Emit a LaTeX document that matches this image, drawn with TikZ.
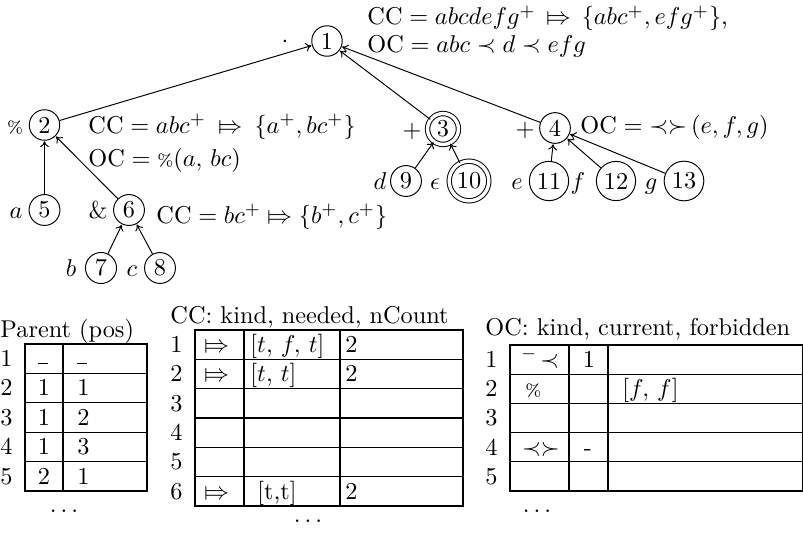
\documentclass[tikz,border=0pt]{standalone}
\usepackage{stmaryrd}
\usetikzlibrary{arrows.meta}
\newcommand{\pct}{{\scriptsize\%}}
\newcommand{\nodash}{\rule[1.1pt]{3.8pt}{0.4pt}}
\begin{document}
\begin{tikzpicture}[x=0.4115pt,y=-0.4115pt,
  st/.style={circle,draw,inner sep=1.5pt,line width=0.4pt},
  acc/.style={st,double,double distance=1.4pt},
  lab/.style={anchor=base,inner sep=0pt},
  edge/.style={-{To[length=2.4pt,width=3.6pt]},line width=0.4pt,shorten >=0.2pt},
  txt/.style={anchor=base west,inner sep=0pt},
  ctr/.style={anchor=base,inner sep=0pt},
  grid/.style={line width=0.5pt}]
\useasboundingbox (0,0) rectangle (803,534);
% ---------------- tree ----------------
\node[st]  (n1)  at (327,41)  {1};
\node[st]  (n2)  at (44.5,125) {2};
\node[acc] (n3)  at (443,129) {3};
\node[st]  (n4)  at (555,128) {4};
\node[st]  (n5)  at (44.5,210) {5};
\node[st]  (n6)  at (129,210) {6};
\node[st]  (n7)  at (101,268) {7};
\node[st]  (n8)  at (160,268) {8};
\node[st]  (n9)  at (406,181) {9};
\node[acc] (n10) at (469,181) {10};
\node[st]  (n11) at (549,181) {11};
\node[st]  (n12) at (616,181) {12};
\node[st]  (n13) at (684,181) {13};
% labels
\node[lab] (l1)  at (285,48)  {$\cdot$};
\node[lab] (l2)  at (15,133)  {\pct};
\node[lab] (l3)  at (412,137) {$+$};
\node[lab] (l4)  at (525,136) {$+$};
\node[lab] (l5)  at (16,218)  {$a$};
\node[lab] (l6)  at (98,218)  {$\&$};
\node[lab] (l7)  at (71,276)  {$b$};
\node[lab] (l8)  at (132,276) {$c$};
\node[lab] (l9)  at (380,189) {$d$};
\node[lab] (l10) at (435,189) {$\epsilon$};
\node[lab] (l11) at (517,189) {$e$};
\node[lab] (l12) at (578,189) {$f$};
\node[lab] (l13) at (651,189) {$g$};
% edges
\foreach \c/\p in {n2/n1,n3/n1,n4/n1,n5/n2,n6/n2,n7/n6,n8/n6,n9/n3,n10/n3,n11/n4,n12/n4,n13/n4}
  \draw[edge] (\c) -- (\p);
% annotations
\node[txt] (cc1) at (367,25) {$\mathrm{CC} = abcdefg^{+} \,\Mapsto\, \{abc^{+}, efg^{+}\}$,};
\node[txt] (oc1) at (367,53) {$\mathrm{OC} = abc \prec d \prec efg$};
\node[txt] (cc2) at (88,133) {$\mathrm{CC} = abc^{+} \:\Mapsto\: \{a^{+}, bc^{+}\}$};
\node[txt] (oc2) at (88,166) {$\mathrm{OC} = \mbox{\pct}(a,\, bc)$};
\node[txt] (cc6) at (156,223) {$\mathrm{CC} = bc^{+} \Mapsto \{b^{+}, c^{+}\}$};
\node[txt] (oc4) at (580,133) {$\mathrm{OC} = \mathord{\prec\succ}\,(e, f, g)$};
% ---------------- Parent table ----------------
\node[txt] (tp) at (0,337) {Parent (pos)};
\draw[grid] (25,344) rectangle (147,491);
\draw[grid] (63,344) -- (63,491);
\foreach \y in {373.4,402.8,432.2,461.6} \draw[grid] (25,\y) -- (147,\y);
\foreach \i/\y in {1/366.5,2/395.9,3/425.3,4/454.7,5/484.1}
  \node[txt] (pr\i) at (0,\y) {\i};
\node[ctr] (pa1) at (43,366.5) {\nodash};
\node[txt] (pb1) at (77,366.5) {\nodash};
\node[ctr] (pa2) at (44,395.9) {1};
\node[txt] (pb2) at (77,395.9) {1};
\node[ctr] (pa3) at (44,425.3) {1};
\node[txt] (pb3) at (77,425.3) {2};
\node[ctr] (pa4) at (44,454.7) {1};
\node[txt] (pb4) at (77,454.7) {3};
\node[ctr] (pa5) at (44,484.1) {2};
\node[txt] (pb5) at (77,484.1) {1};
\node[ctr] (pd) at (64,512) {$\dots$};
% ---------------- CC table ----------------
\node[txt] (tc) at (170,323) {CC: kind, needed, nCount};
\draw[grid] (195,330) rectangle (463,506);
\draw[grid] (244,330) -- (244,506);
\draw[grid] (340,330) -- (340,506);
\foreach \y in {359.3,388.6,417.9,447.2,476.5} \draw[grid] (195,\y) -- (463,\y);
\foreach \i/\y in {1/352.4,2/381.8,3/411.1,4/440.4,5/469.7,6/499}
  \node[txt] (cr\i) at (170,\y) {\i};
\node[ctr] (ca1) at (217,352.4) {$\Mapsto$};
\node[txt] (cb1) at (250,352.4) {$[t,\, f,\, t]$};
\node[txt] (cc1v) at (345,352.4) {2};
\node[ctr] (ca2) at (217,381.8) {$\Mapsto$};
\node[txt] (cb2) at (250,381.8) {$[t,\, t]$};
\node[txt] (cc2v) at (345,381.8) {2};
\node[ctr] (ca6) at (217,499) {$\Mapsto$};
\node[txt] (cb6) at (257,499) {[t,t]};
\node[txt] (cc6v) at (345,499) {2};
\node[ctr] (cd) at (308,522) {$\dots$};
% ---------------- OC table ----------------
\node[txt] (to) at (485,335) {OC: kind, current, forbidden};
\draw[grid] (510,345) rectangle (802.5,491);
\draw[grid] (569,345) -- (569,491);
\draw[grid] (608,345) -- (608,491);
\foreach \y in {374.2,403.4,432.6,461.8} \draw[grid] (510,\y) -- (802.5,\y);
\foreach \i/\y in {1/367.4,2/396.6,3/425.8,4/455,5/484.2}
  \node[txt] (or\i) at (485,\y) {\i};
\node[ctr] (oa1) at (540,367.4) {$^{-}\!\prec$};
\node[ctr] (ob1) at (589,367.4) {1};
\node[txt] (oa2) at (525,396.6) {\pct};
\node[txt] (oc2v) at (622,396.6) {$[f,\, f]$};
\node[ctr] (oa4) at (541,455) {$\prec\succ$};
\node[ctr] (ob4) at (588,455) {-};
\node[ctr] (od) at (537,512) {$\dots$};
\end{tikzpicture}
\end{document}
